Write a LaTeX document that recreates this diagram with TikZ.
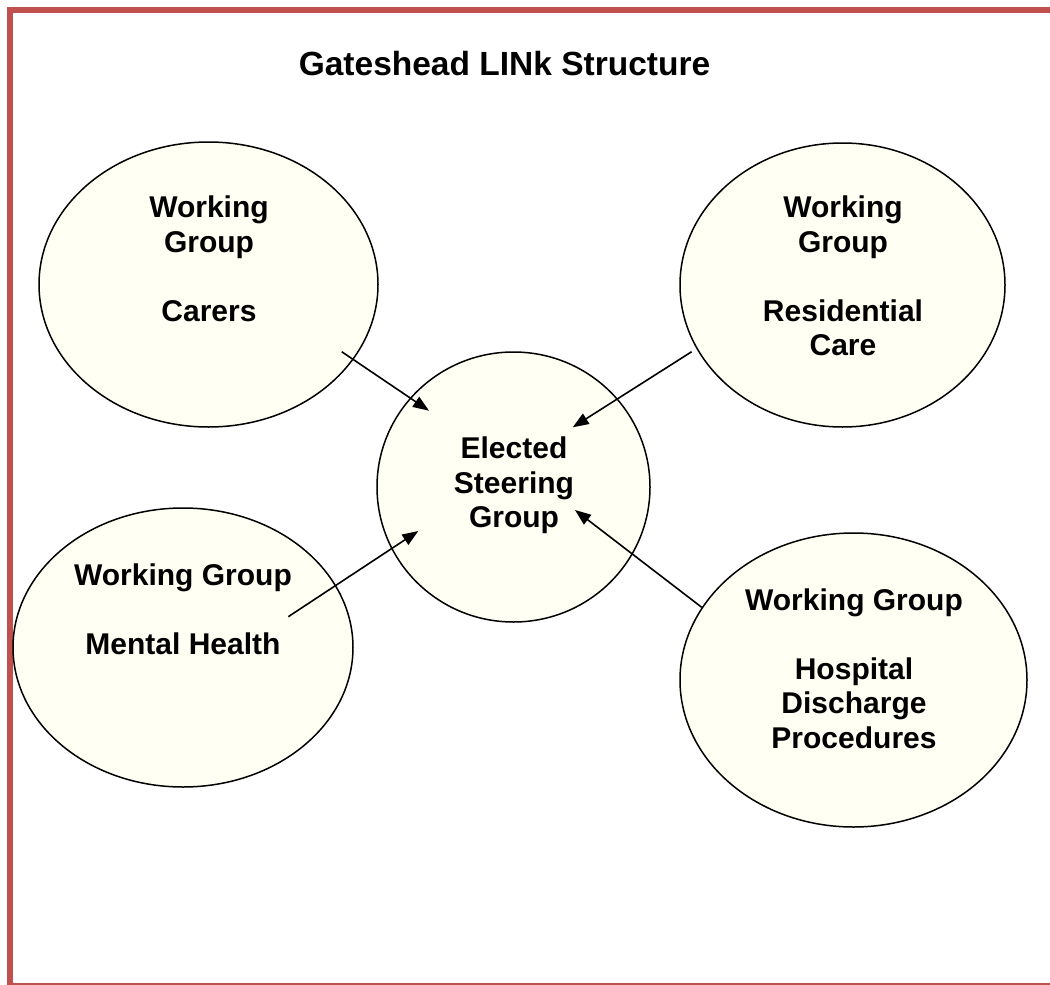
\documentclass[tikz,border=0pt]{standalone}
\usepackage{fontspec}
\setmainfont{Liberation Sans}
\usetikzlibrary{shapes.geometric,arrows.meta}
\definecolor{framered}{HTML}{C0504D}
\definecolor{cream}{RGB}{255,255,243}
\tikzset{
  grp/.style={ellipse, draw=black, fill=cream, line width=1.5pt, inner sep=0pt},
  lbl/.style={align=center, anchor=base, inner sep=0pt, font=\fontsize{30}{34.5}\selectfont\bfseries},
  ttl/.style={anchor=base, inner sep=0pt, font=\fontsize{33.5}{38}\selectfont\bfseries},
  arr/.style={line width=1.6pt, -{Triangle[length=16pt,width=12pt]}},
}
\begin{document}
\begin{tikzpicture}[x=1pt,y=-1pt]
\useasboundingbox (0,0) rectangle (1050,985);
\clip (0,0) rectangle (1050,985);
\draw[framered, line width=6pt] (10,10) rectangle (1056,986);
\node[ttl] (title) at (504.5,75) {Gateshead LINk Structure};
% ellipses
\node[grp, minimum width=339pt, minimum height=285pt] (carers) at (208.5,284.5) {};
\node[grp, minimum width=325pt, minimum height=284pt] (resid) at (842.5,285) {};
\node[grp, minimum width=273pt, minimum height=270pt] (steer) at (513.5,487) {};
\node[grp, minimum width=340pt, minimum height=279pt] (mental) at (183,647.5) {};
\node[grp, minimum width=347pt, minimum height=294pt] (hosp) at (853.5,680) {};
% labels (anchor=base is the baseline of the last line)
\node[lbl] (tcarers) at (209,321) {Working\\Group\\[34.5pt]Carers};
\node[lbl] (tresid) at (843,355.5) {Working\\Group\\[34.5pt]Residential\\Care};
\node[lbl] (tsteer) at (514,527.5) {Elected\\Steering\\Group};
\node[lbl] (tmental) at (183,654) {Working Group\\[34.5pt]Mental Health};
\node[lbl] (thosp) at (854,748) {Working Group\\[34.5pt]Hospital\\Discharge\\Procedures};
% connector ends
\coordinate (a1s) at (341.7,351.7);
\coordinate (a1e) at (429,410.7);
\coordinate (a2s) at (691.7,351.7);
\coordinate (a2e) at (572.7,427.3);
\coordinate (a3s) at (288.3,616.7);
\coordinate (a3e) at (418.3,531);
\coordinate (a4s) at (701.7,607.3);
\coordinate (a4e) at (575,510);
\draw[arr] (a1s) -- (a1e);
\draw[arr] (a2s) -- (a2e);
\draw[arr] (a3s) -- (a3e);
\draw[arr] (a4s) -- (a4e);
\end{tikzpicture}
\end{document}
